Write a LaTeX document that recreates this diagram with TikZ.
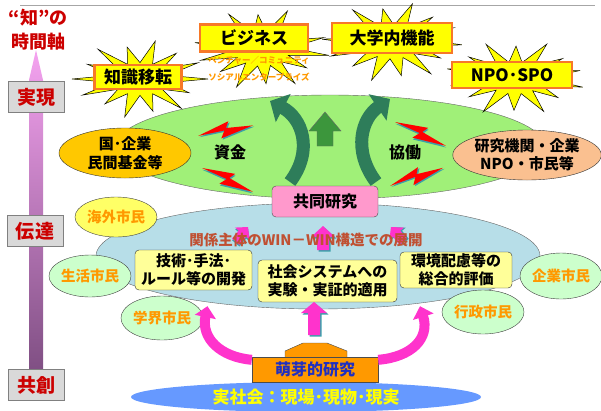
\documentclass[tikz,border=0pt]{standalone}
\usepackage{fontspec}
\setmainfont{Noto Sans CJK JP}
\usetikzlibrary{shapes.geometric}
\usetikzlibrary{arrows.meta}
\usetikzlibrary{positioning}
\definecolor{axisred}{RGB}{204,0,0}
\definecolor{axispink}{RGB}{245,163,240}
\definecolor{axispurple}{RGB}{126,78,130}
\definecolor{labelgray}{RGB}{217,217,217}
\definecolor{leafgreen}{RGB}{160,240,120}
\definecolor{skyblue}{RGB}{183,222,232}
\definecolor{fundyellow}{RGB}{255,200,0}
\definecolor{peach}{RGB}{250,192,144}
\definecolor{burstyellow}{RGB}{255,255,0}
\definecolor{frameorange}{RGB}{247,120,40}
\definecolor{darkgreen}{RGB}{46,125,90}
\definecolor{midgreen}{RGB}{60,150,60}
\definecolor{boltred}{RGB}{255,0,0}
\definecolor{boltteal}{RGB}{60,160,170}
\definecolor{jointpink}{RGB}{255,153,204}
\definecolor{winbrown}{RGB}{192,80,50}
\definecolor{paleyellow}{RGB}{255,255,153}
\definecolor{palegreen}{RGB}{204,255,204}
\definecolor{citizenorange}{RGB}{255,153,0}
\definecolor{magentaarr}{RGB}{255,51,204}
\definecolor{seedorange}{RGB}{255,153,0}
\definecolor{seedblue}{RGB}{32,48,192}
\definecolor{groundblue}{RGB}{102,153,255}

\begin{document}
\begin{tikzpicture}[x=1pt,y=-1pt]
    \tikzset{ axl/.style={draw=black!50, fill=labelgray, text=axisred, font=\fontsize{19}{20}\selectfont\bfseries, minimum width=56pt, minimum height=31pt, inner sep=0pt} }
    \tikzset{ tag/.style={draw=frameorange, line width=2.5pt, fill=burstyellow, inner sep=0pt, text=black, font=\fontsize{17}{18}\selectfont\bfseries} }
    \tikzset{ cit/.style={ellipse, draw=black!75, fill=palegreen, text=citizenorange, inner sep=0pt, font=\fontsize{14.5}{16}\selectfont\bfseries} }
    \tikzset{ tsk/.style={draw=black!80, rounded corners=4pt, fill=paleyellow, align=center, inner sep=0pt, font=\fontsize{15}{18}\selectfont\bfseries} }
    \tikzset{ pool/.style={ellipse, draw=black!60, inner sep=0pt} }
    \tikzset{ garrow/.style={draw=darkgreen, line width=13pt, -{Triangle[length=15pt,width=31pt]}} }
    \tikzset{ parrow/.style={draw=magentaarr, line width=10pt, -{Triangle[length=11pt,width=21pt]}} }
    \tikzset{ burst/.pic={
        \filldraw[fill=burstyellow, draw=black, line width=0.5pt] (#1:1)
          \foreach \a/\r in {13/0.42, 26/0.8, 39/0.42, 51/0.97, 64/0.42, 77/0.85, 90/0.42, 103/1.0, 116/0.42, 129/0.82, 141/0.42, 154/0.94, 167/0.42, 180/1.0,
                             193/0.42, 206/0.86, 219/0.42, 231/0.98, 244/0.42, 257/0.84, 270/0.42, 283/1.0, 296/0.42, 309/0.85, 321/0.42, 334/0.95, 347/0.42} { -- (\a+#1:\r) } -- cycle;} }
    \tikzset{ bolt/.pic={
        \fill[boltteal, shift={(1,1.5)}] (0,0) -- (33,-7) -- (29,-1) -- (56,3) -- (22,8) -- (27,1) -- cycle;
        \fill[boltred] (0,0) -- (33,-7) -- (29,-1) -- (56,3) -- (22,8) -- (27,1) -- cycle;} }
    \tikzset{ pup/.pic={
        \fill[boltteal, shift={(1.5,1.5)}] (0,0) -- (12,11) -- (6,11) -- (6,24) -- (-6,24) -- (-6,11) -- (-12,11) -- cycle;
        \fill[magentaarr] (0,0) -- (12,11) -- (6,11) -- (6,24) -- (-6,24) -- (-6,11) -- (-12,11) -- cycle;} }

    \useasboundingbox (0,0) rectangle (601,410);
    \draw[black!35] (20,5) -- (595,5);

    % time axis
    \shade[top color=axispink, bottom color=axispurple] (36,50) -- (43,80) -- (43,375) -- (29,375) -- (29,80) -- cycle;
    \node[text=axisred, align=center, font=\fontsize{18}{24}\selectfont\bfseries] (ax) at (38,30) {“知”の\\時間軸};
    \node[axl] (l1) at (36,97)  {実現};
    \node[axl] (l2) at (35,231) {伝達};
    \node[axl] (l3) at (36,385) {共創};

    % pools
    \node[pool, fill=leafgreen, minimum width=430pt, minimum height=104pt] (g) at (330,147) {};
    \node[pool, fill=skyblue,   minimum width=444pt, minimum height=106pt] (u) at (318,256) {};

    % bursts
    \pic at (140,79) [xscale=68, yscale=39] {burst=0};
    \pic at (262,49) [xscale=68, yscale=41] {burst=9};
    \pic at (392,42) [xscale=70, yscale=40] {burst=4};
    \pic at (515,78) [xscale=70, yscale=38] {burst=14};
    \node[tag, minimum width=87pt,  minimum height=24pt] (t1) at (138,77) {知識移転};
    \node[tag, minimum width=108pt, minimum height=27pt] (t2) at (254,38) {ビジネス};
    \node[tag, minimum width=120pt, minimum height=30pt] (t3) at (392,38) {大学内機能};
    \node[tag, minimum width=120pt, minimum height=26pt] (t4) at (512,75) {NPO･SPO};
    \node[text=citizenorange, font=\fontsize{8.5}{9}\selectfont\bfseries] (v1) at (259,60) {ベンチャー／コミュニティ};
    \node[text=citizenorange, font=\fontsize{8.5}{9}\selectfont\bfseries] (v2) at (259,77) {ソシアルエンタープライズ};

    % funders and partners
    \node[pool, draw=black!80, fill=fundyellow, minimum width=132pt, minimum height=50pt, align=center, font=\fontsize{15}{19}\selectfont\bfseries] (f1) at (125,153) {国･企業\\民間基金等};
    \node[pool, draw=black!80, fill=peach, minimum width=146pt, minimum height=50pt, align=center, font=\fontsize{15}{18}\selectfont\bfseries] (f2) at (527,155) {研究機関・企業\\NPO・市民等};

    \pic at (198,136) [rotate=14]  {bolt};
    \pic at (202,168) [rotate=-22] {bolt};
    \pic at (395,122) [rotate=-22] {bolt};
    \pic at (390,186) [rotate=22]  {bolt};
    \node[font=\fontsize{16}{16}\selectfont\bfseries] (k1) at (230,152) {資金};
    \node[font=\fontsize{16}{16}\selectfont\bfseries] (k2) at (405,152) {協働};

    \draw[garrow] (290,182) .. controls (314,150) and (302,118) .. (270,101);
    \draw[garrow] (376,182) .. controls (352,150) and (362,118) .. (390,99);
    \filldraw[fill=midgreen, draw=black!60] (325,112) -- (341,131) -- (333,131) -- (333,146) -- (317,146) -- (317,131) -- (309,131) -- cycle;

    \node[draw=black!70, fill=jointpink, rounded corners=4pt, minimum width=106pt, minimum height=31pt, font=\fontsize{16}{16}\selectfont\bfseries] (j) at (325,201.5) {共同研究};

    % citizens
    \node[cit, fill=burstyellow!60, minimum width=82pt, minimum height=40pt] (c1) at (116,217) {海外市民};
    \node[cit, minimum width=82pt, minimum height=42pt] (c2) at (90,276)  {生活市民};
    \node[cit, minimum width=78pt, minimum height=44pt] (c3) at (162,318) {学界市民};
    \node[cit, minimum width=80pt, minimum height=46pt] (c4) at (561,276) {企業市民};
    \node[cit, minimum width=76pt, minimum height=44pt] (c5) at (483,312) {行政市民};

    \pic at (248,227) [rotate=-40, scale=0.8] {pup};
    \pic at (323,226) {pup};
    \pic at (391,227) [rotate=40, scale=0.8] {pup};
    \node[text=winbrown, font=\fontsize{14.5}{15}\selectfont\bfseries] (w) at (306,240) {関係主体のWIN－WIN構造での展開};

    \node[tsk, minimum width=117pt, minimum height=40pt] (b1) at (193.5,270) {技術･手法･\\ルール等の開発};
    \node[tsk, minimum width=139pt, minimum height=42pt] (b2) at (327.5,281) {社会システムへの\\実験・実証的適用};
    \node[tsk, minimum width=112pt, minimum height=36pt] (b3) at (456,270)   {環境配慮等の\\総合的評価};

    % ground
    \node[pool, draw=none, fill=groundblue, minimum width=350pt, minimum height=30pt, text=burstyellow, font=\fontsize{17}{17}\selectfont\bfseries] (r) at (306,397) {実社会：現場･現物･現実};
    \filldraw[fill=seedorange, draw=black!70] (285,358) -- (285,351) -- (303,343) -- (327,343) -- (347,351) -- (347,358);
    \node[draw=black!70, fill=seedorange, minimum width=126pt, minimum height=25pt, text=seedblue, font=\fontsize{16}{16}\selectfont\bfseries] (m) at (315,369.5) {萌芽的研究};

    \fill[boltteal] (315.5,303.5) -- (328.5,314.5) -- (321.5,314.5) -- (321.5,336.5) -- (309.5,336.5) -- (309.5,314.5) -- (302.5,314.5) -- cycle;
    \fill[magentaarr] (314,302) -- (327,313) -- (320,313) -- (320,335) -- (308,335) -- (308,313) -- (301,313) -- cycle;
    \draw[parrow] ([yshift=-3pt]m.north west) .. controls (220,357) and (201,338) .. ([xshift=14pt,yshift=-16pt]b1.south);
    \draw[parrow] ([yshift=-3pt]m.north east) .. controls (412,357) and (430,338) .. ([xshift=-36pt,yshift=-18pt]b3.south);
\end{tikzpicture}
\end{document}
